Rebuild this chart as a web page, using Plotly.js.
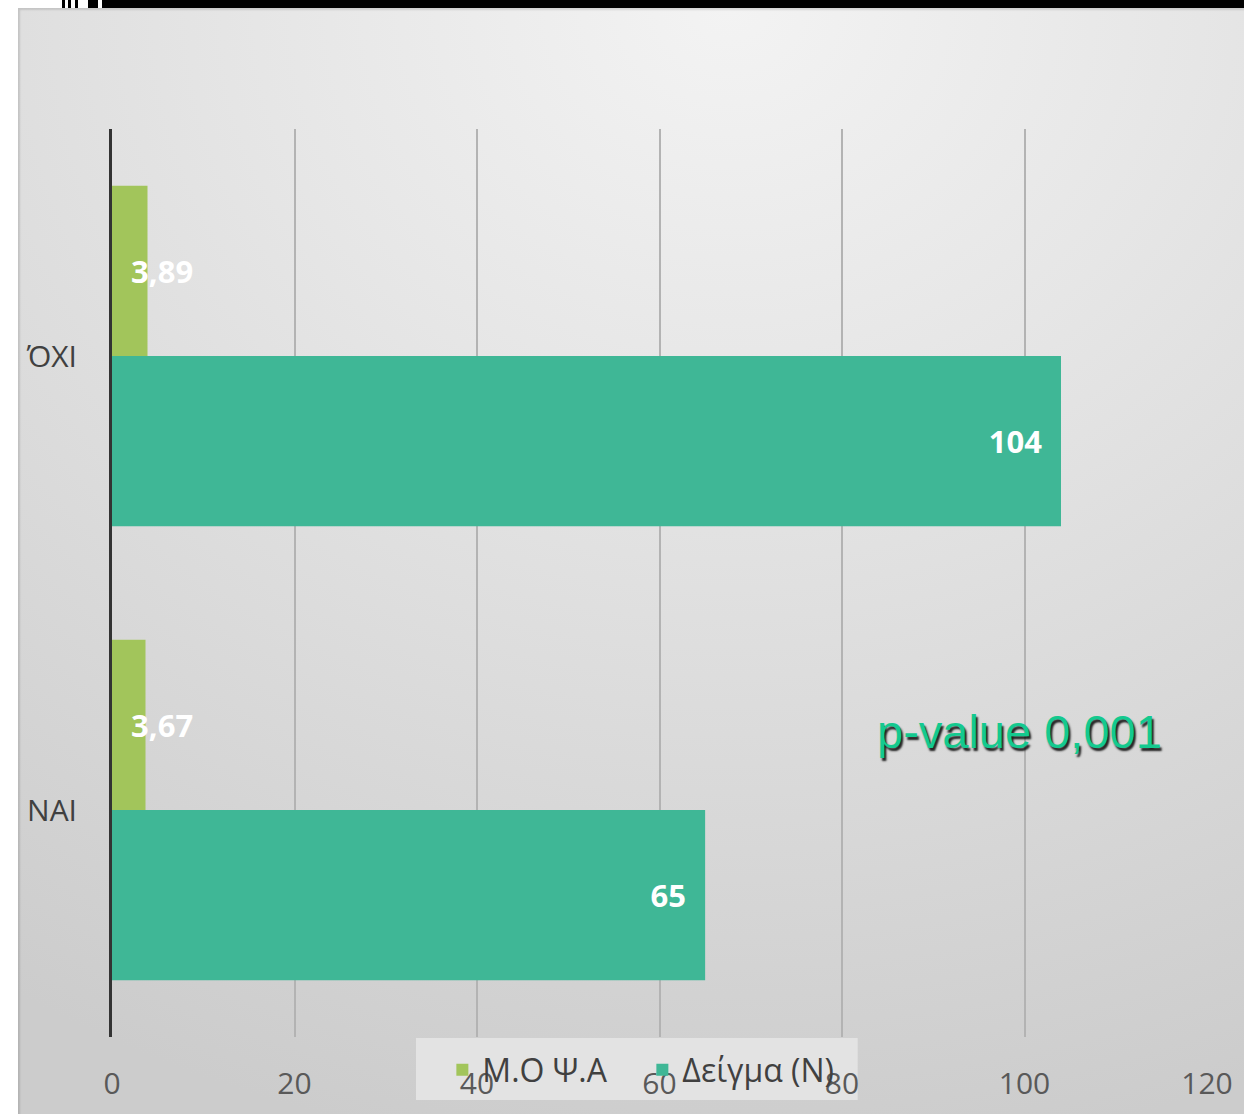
<!DOCTYPE html>
<html>
<head>
<meta charset="utf-8">
<script src="https://cdn.plot.ly/plotly-3.0.1.min.js"></script>
<style>
  html, body { margin: 0; padding: 0; background: #ffffff; }
  #wrap { position: relative; width: 1244px; height: 1114px; overflow: hidden; background: #ffffff; }
  #bg { position: absolute; left: 18px; top: 8px; width: 1226px; height: 1106px;
        background: radial-gradient(ellipse 110% 105% at 58% 0%, #f3f3f3 0%, #e6e6e6 35%, #d8d8d8 70%, #cccccc 100%);
        box-shadow: inset 2px 2px 2px rgba(0,0,0,0.12); }
  #topbar { position: absolute; left: 102px; top: 0; width: 1142px; height: 8px; background: #000; }
  .tick { position: absolute; top: 0; height: 8px; background: #000; }
  #chart { position: absolute; left: 0; top: 0; width: 1244px; height: 1114px; }
</style>
</head>
<body>
<div id="wrap">
  <div id="bg"></div>
  <div id="topbar"></div>
  <div class="tick" style="left:62px;width:3px"></div>
  <div class="tick" style="left:68px;width:3px"></div>
  <div class="tick" style="left:75px;width:3px"></div>
  <div class="tick" style="left:88px;width:10px"></div>
  <div id="chart"></div>
</div>
<script>
// ---- data ----
const categories = ['ΝΑΙ', 'ΌΧΙ'];
const seriesMeanName = 'Μ.Ο Ψ.Α';
const seriesMean = [3.67, 3.89];
const seriesSampleName = 'Δείγμα (Ν)';
const seriesSample = [65, 104];
const xTickValues = [0, 20, 40, 60, 80, 100, 120];
const pValueText = 'p-value 0,001';

const fmt = v => String(v).replace('.', ',');
const NB = '\u00a0';

const labelFont = { family: 'Open Sans, sans-serif', size: 31, color: '#ffffff', weight: 700 };

const traceSample = {
  type: 'bar', orientation: 'h', name: seriesSampleName,
  y: categories, x: seriesSample,
  marker: { color: '#3fb796' },
  text: seriesSample.map(v => fmt(v) + NB + NB),
  textposition: 'inside', insidetextanchor: 'end', constraintext: 'none', textangle: 0,
  textfont: labelFont, hoverinfo: 'x'
};
const traceMean = {
  type: 'bar', orientation: 'h', name: seriesMeanName,
  y: categories, x: seriesMean,
  marker: { color: '#a2c55b' },
  text: seriesMean.map(v => NB + NB + fmt(v.toFixed(2))),
  textposition: 'inside', insidetextanchor: 'start', constraintext: 'none', textangle: 0,
  textfont: labelFont, hoverinfo: 'x'
};

const layout = {
  width: 1244, height: 1114,
  margin: { l: 112, r: 37, t: 129, b: 77 },
  paper_bgcolor: 'rgba(0,0,0,0)',
  plot_bgcolor: 'rgba(0,0,0,0)',
  barmode: 'group', bargap: 0.25, bargroupgap: 0,
  font: { family: 'Open Sans, sans-serif', color: '#595959' },
  xaxis: {
    range: [0, 120], tickvals: xTickValues, ticktext: xTickValues.map(String),
    showgrid: true, gridcolor: '#b3b3b3', gridwidth: 2,
    zeroline: false, showline: false, ticks: '',
    tickfont: { family: 'Open Sans, sans-serif', size: 30, color: '#595959' },
    ticklabelstandoff: 26, fixedrange: true
  },
  yaxis: {
    type: 'category', categoryorder: 'array', categoryarray: categories,
    showline: true, linecolor: '#333333', linewidth: 3, showgrid: false, ticks: '',
    tickfont: { family: 'Open Sans, sans-serif', size: 30, color: '#404040' },
    ticklabelstandoff: 26, fixedrange: true
  },
  showlegend: true,
  legend: {
    orientation: 'h', traceorder: 'reversed',
    x: 0.3017, xanchor: 'left', y: -0.006, yanchor: 'top',
    bgcolor: 'rgba(0,0,0,0)', borderwidth: 0,
    font: { family: 'Open Sans, sans-serif', size: 32, color: '#404040' },
    itemwidth: 30, entrywidth: 155, entrywidthmode: 'pixels'
  },
  shapes: [{
    type: 'rect', xref: 'paper', yref: 'paper', layer: 'below',
    x0: 0.2776, x1: 0.681, y0: -0.0694, y1: -0.0011,
    fillcolor: 'rgba(230,230,230,0.85)', line: { width: 0 }
  }],
  annotations: [{
    text: pValueText, xref: 'x', yref: 'paper', x: 99.4, y: 0.337,
    xanchor: 'center', yanchor: 'middle', showarrow: false,
    font: { family: 'Liberation Sans, Arial, sans-serif', size: 47, color: '#14c98f',
            shadow: '2px 3px 2px rgba(0,0,0,0.85)' }
  }]
};

Plotly.newPlot('chart', [traceSample, traceMean], layout, { staticPlot: true });
</script>
</body>
</html>
